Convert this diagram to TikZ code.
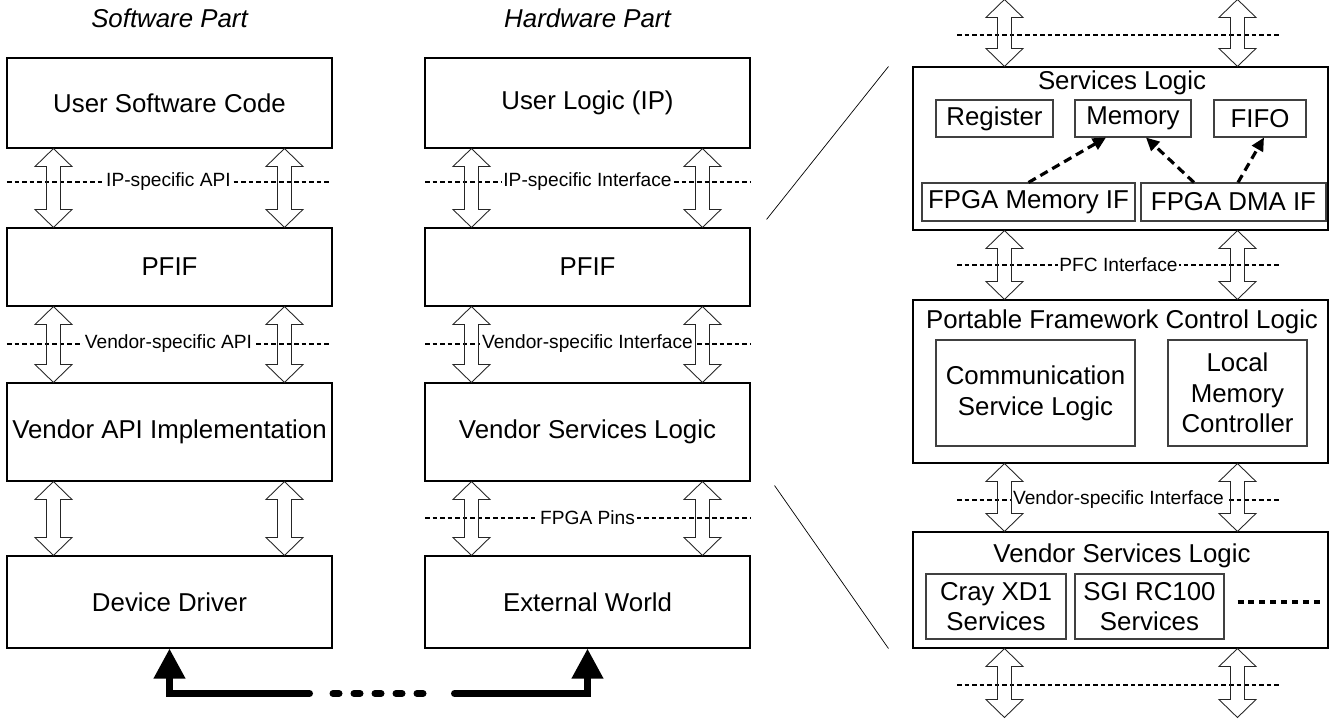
\documentclass[tikz,border=0pt]{standalone}
\usepackage{fontspec}
\setmainfont{Liberation Sans}
\usetikzlibrary{arrows.meta,calc,positioning}

\newcommand{\bigtxt}{\fontsize{14.7}{17.5}\selectfont}
\newcommand{\smalltxt}{\fontsize{10.9}{13}\selectfont}

% hollow two-way arrow between an upper and a lower point
\newcommand{\biarrow}[2]{%
  \draw[biarr] let \p1=(#1), \p2=(#2) in
    (\x1,\y1) -- ++(0.37,-0.36) -- ++(-0.23,0) -- (\x1+0.14cm,\y2+0.36cm)
    -- ++(0.23,0) -- (\x2,\y2) -- ++(-0.37,0.36) -- ++(0.23,0)
    -- (\x1-0.14cm,\y1-0.36cm) -- ++(-0.23,0) -- cycle;}

\begin{document}
\begin{tikzpicture}[
  box/.style={draw, line width=0.6pt, minimum width=6.5cm, inner sep=0pt, font=\bigtxt},
  wide/.style={draw, line width=0.6pt, minimum width=8.3cm, inner sep=0pt},
  inbox/.style={draw=black!75, line width=0.6pt, inner sep=0pt, align=center, font=\bigtxt},
  title/.style={font=\bigtxt, inner sep=0pt},
  ifline/.style={line width=1.2pt, dash pattern=on 2.6pt off 1.7pt},
  iflabel/.style={fill=white, inner sep=1pt, font=\smalltxt},
  biarr/.style={line width=0.5pt, draw=black!85},
  dasharr/.style={line width=1.8pt, dash pattern=on 4.8pt off 3pt, -{Triangle[length=7.5pt,width=7pt]}},
  bus/.style={line width=0.14cm, line cap=round},
  zoomline/.style={line width=0.4pt}]
\useasboundingbox (0,0) rectangle (26.6,-14.38);

\node[title, font=\bigtxt\itshape] (swpart) at (3.39,-0.36) {Software Part};
\node[title, font=\bigtxt\itshape] (hwpart) at (11.75,-0.36) {Hardware Part};

% software side
\node[box, minimum height=1.8cm] (usc) at (3.39,-2.06) {User Software Code};
\node[box, minimum height=1.56cm] (swpf) at (3.39,-5.34) {PFIF};
\node[box, minimum height=1.96cm] (vapi) at (3.39,-8.64) {Vendor API Implementation};
\node[box, minimum height=1.84cm] (drv) at (3.39,-12.04) {Device Driver};

% hardware side
\node[box, minimum height=1.8cm] (ulog) at (11.75,-2.06) {User Logic (IP)};
\node[box, minimum height=1.56cm] (hwpf) at (11.75,-5.34) {PFIF};
\node[box, minimum height=1.96cm] (vsl) at (11.75,-8.64) {Vendor Services Logic};
\node[box, minimum height=1.84cm] (ext) at (11.75,-12.04) {External World};

% interface lines
\draw[ifline] (0.14,-3.64) -- (6.6,-3.64) node[midway, iflabel] (ipapi) {IP-specific API};
\draw[ifline] (0.14,-6.88) -- (6.6,-6.88) node[midway, iflabel] (vapil) {Vendor-specific API};
\draw[ifline] (8.5,-3.64) -- (15.0,-3.64) node[midway, iflabel] (ipif) {IP-specific Interface};
\draw[ifline] (8.5,-6.88) -- (15.0,-6.88) node[midway, iflabel] (vif) {Vendor-specific Interface};
\draw[ifline] (8.5,-10.36) -- (15.0,-10.36) node[midway, iflabel] (pins) {FPGA Pins};

\biarrow{[xshift=0.94cm]usc.south west}{[xshift=0.94cm]swpf.north west}
\biarrow{[xshift=5.56cm]usc.south west}{[xshift=5.56cm]swpf.north west}
\biarrow{[xshift=0.94cm]swpf.south west}{[xshift=0.94cm]vapi.north west}
\biarrow{[xshift=5.56cm]swpf.south west}{[xshift=5.56cm]vapi.north west}
\biarrow{[xshift=0.94cm]vapi.south west}{[xshift=0.94cm]drv.north west}
\biarrow{[xshift=5.56cm]vapi.south west}{[xshift=5.56cm]drv.north west}
\biarrow{[xshift=0.94cm]ulog.south west}{[xshift=0.94cm]hwpf.north west}
\biarrow{[xshift=5.56cm]ulog.south west}{[xshift=5.56cm]hwpf.north west}
\biarrow{[xshift=0.94cm]hwpf.south west}{[xshift=0.94cm]vsl.north west}
\biarrow{[xshift=5.56cm]hwpf.south west}{[xshift=5.56cm]vsl.north west}
\biarrow{[xshift=0.94cm]vsl.south west}{[xshift=0.94cm]ext.north west}
\biarrow{[xshift=5.56cm]vsl.south west}{[xshift=5.56cm]ext.north west}

% link between driver and outside world
\coordinate (busl) at ([yshift=-0.9cm]drv.south);
\coordinate (busr) at ([yshift=-0.9cm]ext.south);
\draw[bus, -{Triangle[length=0.6cm,width=0.6cm]}] ([xshift=2.8cm]busl) -- (busl) -- (drv.south);
\draw[bus, -{Triangle[length=0.6cm,width=0.6cm]}] ([xshift=-2.66cm]busr) -- (busr) -- (ext.south);
\draw[bus, dash pattern=on 0.12cm off 0.3cm] ([xshift=3.27cm]busl) -- ([xshift=5.1cm]busl);

% detail of the hardware stack
\node[wide, minimum height=3.26cm] (svc) at (22.41,-2.97) {};
\node[title] (svct) at (22.44,-1.66) {Services Logic};
\node[inbox, minimum width=2.34cm, minimum height=0.74cm] (reg) at (19.89,-2.37) {Register};
\node[inbox, minimum width=2.32cm, minimum height=0.74cm] (mem) at (22.66,-2.37) {Memory};
\node[inbox, minimum width=1.84cm, minimum height=0.74cm] (fifo) at (25.2,-2.37) {FIFO};
\node[inbox, minimum width=4.26cm, minimum height=0.76cm] (memif) at (20.57,-4.04) {FPGA Memory IF};
\node[inbox, minimum width=3.7cm, minimum height=0.76cm] (dmaif) at (24.67,-4.04) {FPGA DMA IF};
\draw[dasharr] (memif.north) -- ([xshift=-0.54cm]mem.south);
\draw[dasharr] ([xshift=-0.79cm]dmaif.north) -- ([xshift=0.26cm]mem.south);
\draw[dasharr] ([xshift=0.09cm]dmaif.north) -- ([xshift=0.08cm]fifo.south);

\node[wide, minimum height=3.26cm] (pfc) at (22.41,-7.63) {};
\node[title] (pfct) at (22.44,-6.44) {Portable Framework Control Logic};
\node[inbox, minimum width=3.98cm, minimum height=2.12cm] (comm) at (20.71,-7.86) {Communication\\Service Logic};
\node[inbox, minimum width=2.78cm, minimum height=2.12cm] (lmc) at (24.75,-7.86) {Local\\Memory\\Controller};

\node[wide, minimum height=2.32cm] (vsr) at (22.41,-11.8) {};
\node[title] (vsrt) at (22.44,-11.12) {Vendor Services Logic};
\node[inbox, minimum width=2.8cm, minimum height=1.3cm] (cray) at (19.92,-12.13) {Cray XD1\\Services};
\node[inbox, minimum width=2.98cm, minimum height=1.3cm] (sgi) at (22.99,-12.13) {SGI RC100\\Services};
\draw[line width=2.2pt, dash pattern=on 3.4pt off 2.8pt] ([xshift=0.26cm,yshift=0.09cm]sgi.east) -- ++(1.72,0);

\draw[ifline] (19.14,-0.7) -- (25.6,-0.7);
\draw[ifline] (19.14,-5.3) -- (25.6,-5.3) node[midway, iflabel] (pfcif) {PFC Interface};
\draw[ifline] (19.14,-10.0) -- (25.6,-10.0) node[midway, iflabel] (vifr) {Vendor-specific Interface};
\draw[ifline] (19.14,-13.7) -- (25.6,-13.7);

\biarrow{[xshift=1.84cm,yshift=1.34cm]svc.north west}{[xshift=1.84cm]svc.north west}
\biarrow{[xshift=6.5cm,yshift=1.34cm]svc.north west}{[xshift=6.5cm]svc.north west}
\biarrow{[xshift=1.84cm]svc.south west}{[xshift=1.84cm]pfc.north west}
\biarrow{[xshift=6.5cm]svc.south west}{[xshift=6.5cm]pfc.north west}
\biarrow{[xshift=1.84cm]pfc.south west}{[xshift=1.84cm]vsr.north west}
\biarrow{[xshift=6.5cm]pfc.south west}{[xshift=6.5cm]vsr.north west}
\biarrow{[xshift=1.84cm]vsr.south west}{[xshift=1.84cm,yshift=-1.38cm]vsr.south west}
\biarrow{[xshift=6.5cm]vsr.south west}{[xshift=6.5cm,yshift=-1.38cm]vsr.south west}

% zoom lines
\draw[zoomline] ([xshift=0.32cm,yshift=0.16cm]hwpf.north east) -- ([xshift=-0.48cm]svc.north west);
\draw[zoomline] ([xshift=0.48cm,yshift=-0.08cm]vsl.south east) -- ([xshift=-0.48cm]vsr.south west);
\end{tikzpicture}
\end{document}
